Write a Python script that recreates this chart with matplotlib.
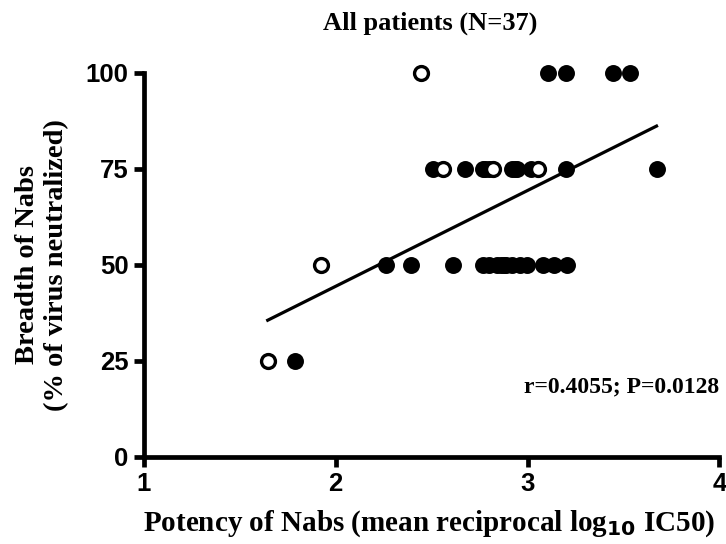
import numpy as np
import matplotlib
matplotlib.use('Agg')
import matplotlib.pyplot as plt

# filled circles (one group) and open circles (the other group)
filled_x = [1.786,
            2.260, 2.391, 2.609, 2.766, 2.800, 2.840, 2.860, 2.875, 2.890, 2.920, 2.960, 2.995, 3.078, 3.140, 3.203,
            2.505, 2.672, 2.766, 2.780, 2.797, 2.920, 2.935, 2.945, 3.016, 3.198, 3.672,
            3.104, 3.198, 3.443, 3.536]
filled_y = [25,
            50, 50, 50, 50, 50, 50, 50, 50, 50, 50, 50, 50, 50, 50, 50,
            75, 75, 75, 75, 75, 75, 75, 75, 75, 75, 75,
            100, 100, 100, 100]
open_x = [1.646, 1.922, 2.557, 2.818, 3.052, 2.443]
open_y = [25, 50, 75, 75, 75, 100]

stat_text = "r=0.4055; P=0.0128"

all_x = np.array(filled_x + open_x)
all_y = np.array(filled_y + open_y)
slope, intercept = np.polyfit(all_x, all_y, 1)
line_x = np.array([all_x.min(), all_x.max()])

fig = plt.figure(figsize=(7.26, 5.44), dpi=100)
ax = fig.add_axes([0.198, 0.160, 0.793, 0.706])

ax.plot(line_x, slope * line_x + intercept, color='black', lw=2.3, zorder=1)
ax.plot(filled_x, filled_y, 'o', color='black', ms=12.2, mew=0, zorder=2)
ax.plot(open_x, open_y, 'o', mfc='white', mec='black', ms=10, mew=2.4, zorder=3)

ax.set_xlim(1, 4)
ax.set_ylim(0, 100)
ax.set_xticks([1, 2, 3, 4])
ax.set_yticks([0, 25, 50, 75, 100])
for s in ['top', 'right']:
    ax.spines[s].set_visible(False)
for s in ['left', 'bottom']:
    ax.spines[s].set_linewidth(3.4)
ax.tick_params(width=3.4, length=7, direction='out', pad=4)
for lab in ax.get_xticklabels() + ax.get_yticklabels():
    lab.set_fontfamily('Liberation Sans')
    lab.set_fontweight('bold')
    lab.set_fontsize(18.5)
for ln in ax.lines:
    ln.set_clip_on(False)

serif = dict(family='Liberation Serif', weight='bold')
fig.text(0.593, 0.957, "All patients (N=37)", ha='center', va='center', fontsize=19, **serif)
ax.set_xlabel("Potency of Nabs (mean reciprocal log$_{\\mathbf{10}}$ IC50)", fontsize=21, **serif)
ax.xaxis.set_label_coords(0.495, -0.135)
ax.set_ylabel("Breadth of Nabs\n(% of virus neutralized)", fontsize=20.5, **serif)
ax.yaxis.set_label_coords(-0.13, 0.5)
ax.text(1.0, 0.182, stat_text, transform=ax.transAxes, ha='right', va='center', fontsize=17, **serif)

fig.savefig('out.png', dpi=100)
